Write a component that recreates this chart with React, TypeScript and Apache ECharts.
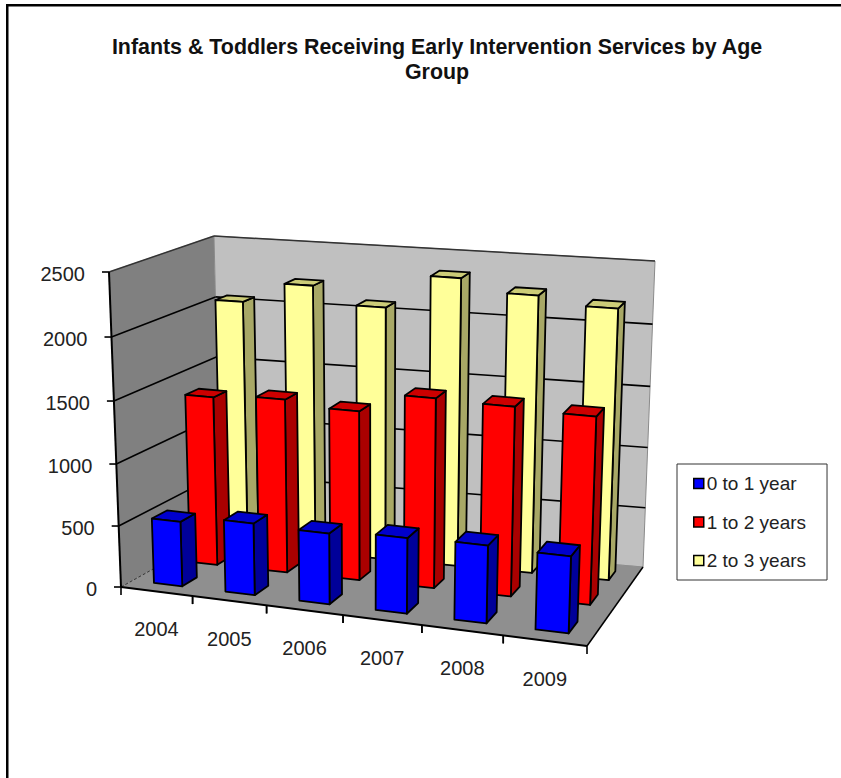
import React, { useEffect, useRef } from "react";
import * as echarts from "echarts";

const years = ["2004", "2005", "2006", "2007", "2008", "2009"];
const yTicks = [0, 500, 1000, 1500, 2000, 2500];
const seriesNames = ["0 to 1 year", "1 to 2 years", "2 to 3 years"];
const age0to1 = [530, 585, 575, 610, 625, 615];
const age1to2 = [1390, 1425, 1385, 1545, 1535, 1515];
const age2to3 = [2050, 2220, 2085, 2360, 2265, 2205];
const titleText = "Infants & Toddlers Receiving Early Intervention Services by Age\nGroup";

const FONT = '"Liberation Sans", Arial, sans-serif';

// Screen corners of the plot box: floor and ceiling, with gentle warps for foreshortening.
const FLOOR = { fl: [121, 587], fr: [587, 646], br: [643, 567], bl: [221, 531] };
const CEIL = { fl: [109, 272], fr: [598, 320], br: [655, 261], bl: [214, 236] };
const WARP_X = 0.094;
const WARP_Z = 0.22;
const WARP_T = 0.04;

const lerp = (a: number, b: number, s: number) => a + (b - a) * s;
const onFace = (q: any, s: number, z: number) => [
  lerp(lerp(q.fl[0], q.fr[0], s), lerp(q.bl[0], q.br[0], s), z),
  lerp(lerp(q.fl[1], q.fr[1], s), lerp(q.bl[1], q.br[1], s), z),
];
const project = (u: number, w: number, t: number) => {
  const s = u * (1 - WARP_X * (1 - u));
  const z = w * (1 + WARP_Z * (1 - w));
  const v = t * (1 - WARP_T * (1 - t));
  const a = onFace(FLOOR, s, z);
  const b = onFace(CEIL, s, z);
  return [lerp(a[0], b[0], v), lerp(a[1], b[1], v)];
};

const poly = (points: number[][], fill: string, stroke = "#000", lineWidth = 1.8) => ({
  type: "polygon",
  shape: { points },
  style: { fill, stroke, lineWidth, lineJoin: "round" },
});
const line = (p: number[], q: number[], stroke = "#000", lineWidth = 1.6, dash?: number[]) => ({
  type: "line",
  shape: { x1: p[0], y1: p[1], x2: q[0], y2: q[1] },
  style: { stroke, lineWidth, lineDash: dash, fill: null },
});
const label = (text: string, x: number, y: number, align: string) => ({
  type: "text",
  style: {
    text, x, y, align, verticalAlign: "middle",
    font: `20px ${FONT}`, fill: "#222",
  },
});

// scale readers: the grid axes give the values their normalised position
const toUnit = (params: any, api: any, cat: number, val: number) => {
  const cs = params.coordSys;
  const pt = api.coord([cat, val]);
  return {
    u: (pt[0] - cs.x) / cs.width,
    t: (cs.y + cs.height - pt[1]) / cs.height,
    band: api.size([1, 0])[0] / cs.width,
  };
};

const barSeries = (name: string, values: number[], slot: number, colors: string[]) => ({
  name,
  type: "custom",
  coordinateSystem: "cartesian2d",
  itemStyle: { color: colors[0] },
  encode: { x: 0, y: 1 },
  data: values.map((v, i) => [i, v]),
  silent: true,
  renderItem: (params: any, api: any) => {
    const { u, t, band } = toUnit(params, api, api.value(0), api.value(1));
    const uA = u - band * 0.2, uB = u + band * 0.2;
    const wMid = (slot + 0.5) / 3, half = 0.2 / 3;
    const wA = wMid - half, wB = wMid + half;
    return {
      type: "group",
      children: [
        poly([project(uB, wA, 0), project(uB, wB, 0), project(uB, wB, t), project(uB, wA, t)], colors[2]),
        poly([project(uA, wA, t), project(uB, wA, t), project(uB, wB, t), project(uA, wB, t)], colors[1]),
        poly([project(uA, wA, 0), project(uB, wA, 0), project(uB, wA, t), project(uA, wA, t)], colors[0]),
      ],
    };
  },
});

export default function App() {
  const ref = useRef<HTMLDivElement>(null);
  useEffect(() => {
    document.body.style.margin = "0";
    const chart = echarts.init(ref.current!, null, { renderer: "svg" });
    chart.setOption({
      animation: false,
      backgroundColor: "#fff",
      title: {
        text: titleText,
        left: 432,
        top: 29.5,
        textAlign: "center",
        textStyle: { fontFamily: FONT, fontSize: 21.4, fontWeight: "bold", color: "#111", lineHeight: 25 },
      },
      legend: {
        data: seriesNames,
        orient: "vertical",
        left: 677,
        top: 464,
        padding: [10, 21, 10, 16],
        itemWidth: 10,
        itemHeight: 10,
        itemGap: 19.5,
        icon: "rect",
        borderColor: "#333",
        borderWidth: 1,
        selectedMode: false,
        itemStyle: { borderColor: "#000", borderWidth: 1.5 },
        textStyle: { fontFamily: FONT, fontSize: 19, color: "#222", padding: [0, 0, 0, -2] },
      },
      grid: { left: 100, top: 100, width: 600, height: 500, show: false },
      xAxis: { type: "category", data: years, show: false },
      yAxis: { type: "value", min: 0, max: 2500, interval: 500, show: false },
      graphic: [
        { type: "rect", shape: { x: 6, y: 4, width: 2.5, height: 774 }, style: { fill: "#000" } },
        { type: "rect", shape: { x: 6, y: 4, width: 835, height: 2.5 }, style: { fill: "#000" } },
      ],
      series: [
        {
          name: "walls",
          type: "custom",
          coordinateSystem: "cartesian2d",
          data: [[0, 0]],
          silent: true,
          renderItem: () => ({
            type: "group",
            children: [
              poly([project(0, 0, 0), project(0, 1, 0), project(0, 1, 1), project(0, 0, 1)], "#808080", "#808080", 0.5),
              poly([project(0, 1, 0), project(1, 1, 0), project(1, 1, 1), project(0, 1, 1)], "#c0c0c0", "#8a8a8a", 1),
              poly([project(0, 0, 0), project(1, 0, 0), project(1, 1, 0), project(0, 1, 0)], "#8f8f8f", "#8f8f8f", 0.5),
              line(project(0, 0, 1), project(0, 1, 1), "#333", 1.5),
              line(project(0, 1, 1), project(1, 1, 1), "#333", 1.5),
              line(project(0, 0, 0), project(0, 1, 0), "#333", 1, [3, 2]),
              line(project(0, 0, 0), project(1, 0, 0), "#000", 2),
              line(project(1, 0, 0), project(1, 1, 0), "#000", 1.5),
              line(project(0, 0, 0), project(0, 0, 1), "#000", 2),
            ],
          }),
        },
        {
          name: "value axis",
          type: "custom",
          coordinateSystem: "cartesian2d",
          encode: { y: 1 },
          data: yTicks.map((v) => [0, v]),
          silent: true,
          renderItem: (params: any, api: any) => {
            const { t } = toUnit(params, api, 0, api.value(1));
            const front = project(0, 0, t);
            const children: any[] = [
              line([front[0] - 7, front[1]], front),
              label(String(api.value(1)), front[0] - 24, front[1] + 1.5, "right"),
            ];
            if (t > 0 && t < 1) {
              children.push(line(front, project(0, 1, t)));
              children.push(line(project(0, 1, t), project(1, 1, t)));
            }
            return { type: "group", children };
          },
        },
        {
          name: "category axis",
          type: "custom",
          coordinateSystem: "cartesian2d",
          encode: { x: 0 },
          data: years.map((_, i) => [i, 0]),
          silent: true,
          renderItem: (params: any, api: any) => {
            const i = api.value(0);
            const { u, band } = toUnit(params, api, i, 0);
            const left = project(u - band / 2, 0, 0);
            const right = project(u + band / 2, 0, 0);
            const mid = project(u, 0, 0);
            const children: any[] = [
              line(left, [left[0], left[1] + 8]),
              line(right, [right[0], right[1] + 8]),
              label(years[i], mid[0], mid[1] + 38, "center"),
            ];
            return { type: "group", children };
          },
        },
        barSeries(seriesNames[2], age2to3, 2, ["#ffff99", "#cccc77", "#a8a866"]),
        barSeries(seriesNames[1], age1to2, 1, ["#ff0000", "#cc0000", "#aa0000"]),
        barSeries(seriesNames[0], age0to1, 0, ["#0000ff", "#0000cc", "#000099"]),
      ],
    });
    return () => chart.dispose();
  }, []);
  return <div ref={ref} style={{ width: 841, height: 778 }} />;
}
